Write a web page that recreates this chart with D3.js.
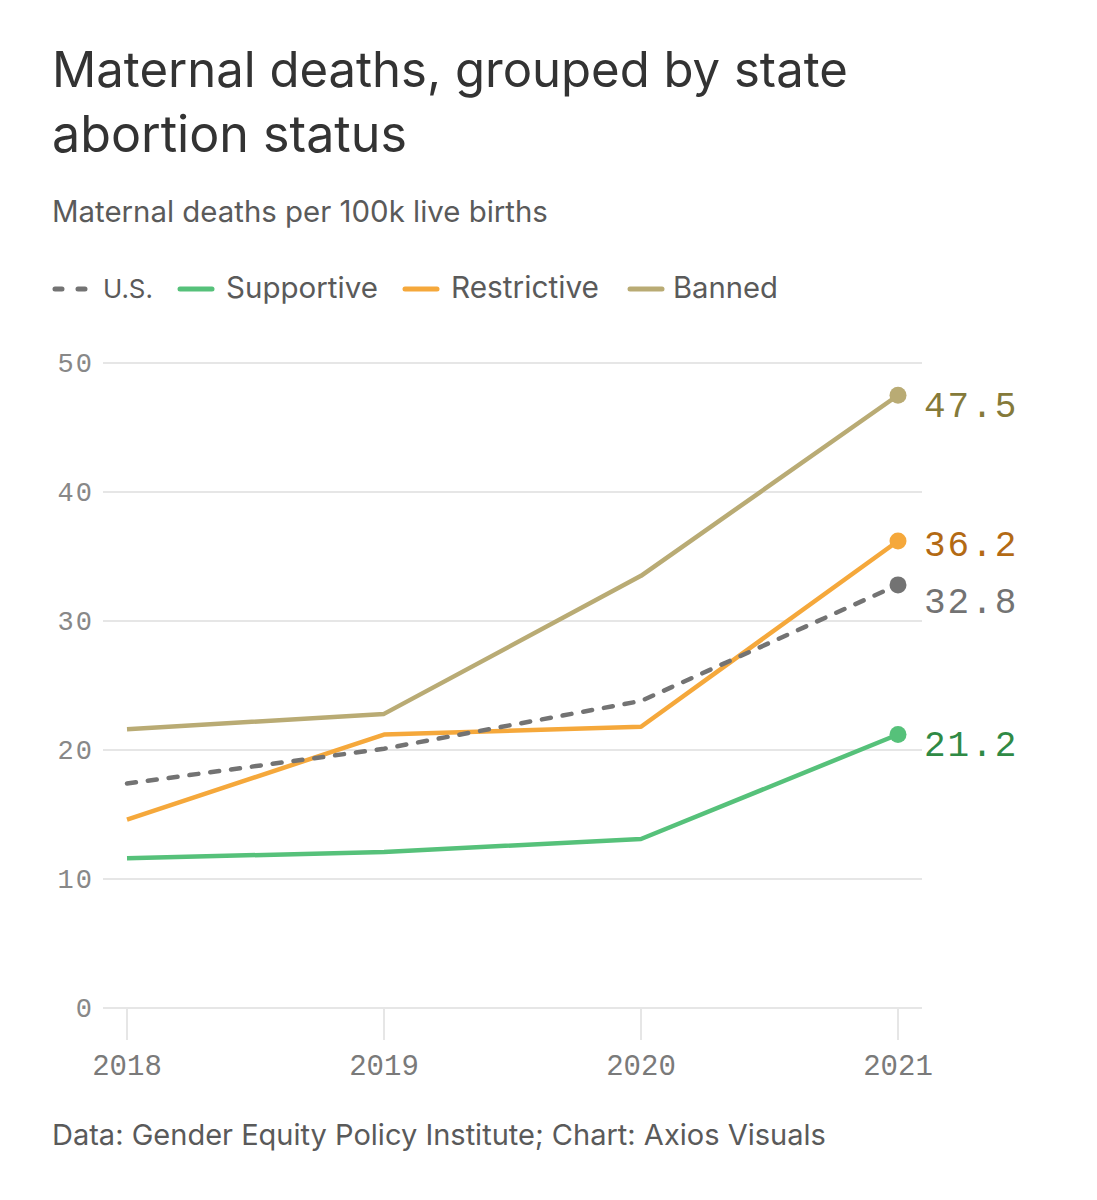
<!DOCTYPE html>
<html><head><meta charset="utf-8">
<script src="https://cdn.jsdelivr.net/npm/d3@7"></script>
<style>body{margin:0;background:#fff;}svg{display:block;}</style>
</head><body>
<svg id="chart" width="1097" height="1200"></svg>
<script>
const years = ["2018","2019","2020","2021"];
const usValues = [17.4, 20.1, 23.8, 32.8];
const supportiveValues = [11.6, 12.1, 13.1, 21.2];
const restrictiveValues = [14.6, 21.2, 21.8, 36.2];
const bannedValues = [21.6, 22.8, 33.5, 47.5];
const yTicks = [0, 10, 20, 30, 40, 50];
const seriesNames = ["U.S.", "Supportive", "Restrictive", "Banned"];

const series = [
  {name: seriesNames[0], values: usValues, color: "#737373", label: "#737373", dashed: true, labelDy: 28},
  {name: seriesNames[1], values: supportiveValues, color: "#56c17a", label: "#2f8a45", labelDy: 21},
  {name: seriesNames[2], values: restrictiveValues, color: "#f5a83b", label: "#b36a14", labelDy: 15},
  {name: seriesNames[3], values: bannedValues, color: "#b9ab74", label: "#857a3a", labelDy: 22}
];

const svg = d3.select("#chart");
const sans = "Inter, 'Noto Sans', 'DejaVu Sans', sans-serif";
const mono = "'Liberation Mono', 'DejaVu Sans Mono', monospace";

function fitText(sel, width) {
  const w = sel.node().getComputedTextLength();
  const fs = parseFloat(sel.attr("font-size"));
  sel.attr("font-size", fs * width / w);
}

// Title
fitText(svg.append("text").attr("x", 52).attr("y", 87).attr("font-family", sans).attr("font-size", 44)
  .attr("fill", "#333").text("Maternal deaths, grouped by state"), 796);
fitText(svg.append("text").attr("x", 52).attr("y", 152).attr("font-family", sans).attr("font-size", 44)
  .attr("fill", "#333").text("abortion status"), 355);
fitText(svg.append("text").attr("x", 52).attr("y", 222).attr("font-family", sans).attr("font-size", 25)
  .attr("fill", "#5a5a5a").text("Maternal deaths per 100k live births"), 496);

// Legend
const legendPos = [
  {x0: 52, x1: 92, tx: 103, tw: 50},
  {x0: 177, x1: 215, tx: 226, tw: 152},
  {x0: 402, x1: 440, tx: 451, tw: 148},
  {x0: 627, x1: 665, tx: 673, tw: 105}
];
series.forEach((s, i) => {
  const p = legendPos[i];
  const ly = 289;
  const l = svg.append("line").attr("x1", p.x0 + 3).attr("x2", p.x1 - 3).attr("y1", ly).attr("y2", ly)
    .attr("stroke", s.color).attr("stroke-width", 5).attr("stroke-linecap", "round");
  if (s.dashed) l.attr("stroke-dasharray", "7,16");
  fitText(svg.append("text").attr("x", p.tx).attr("y", 298).attr("font-family", sans).attr("font-size", 26)
    .attr("fill", "#5a5a5a").text(s.name), p.tw);
});

// Scales
const x = d3.scalePoint().domain(years).range([127, 898]);
const y = d3.scaleLinear().domain([0, 50]).range([1008, 363]);

// Grid
svg.append("g").selectAll("line").data(yTicks).join("line")
  .attr("x1", 103).attr("x2", 922).attr("y1", d => y(d)).attr("y2", d => y(d))
  .attr("stroke", "#e6e6e6").attr("stroke-width", 2);
svg.append("g").selectAll("text").data(yTicks).join("text")
  .attr("x", 94).attr("y", d => y(d) + 9).attr("text-anchor", "end")
  .attr("font-family", mono).attr("font-size", 27).attr("letter-spacing", 2).attr("fill", "#888")
  .text(d => d);

// X axis ticks
svg.append("g").selectAll("line").data(years).join("line")
  .attr("x1", d => x(d)).attr("x2", d => x(d)).attr("y1", y(0)).attr("y2", 1040)
  .attr("stroke", "#e6e6e6").attr("stroke-width", 2);
svg.append("g").selectAll("text").data(years).join("text")
  .attr("x", d => x(d)).attr("y", 1075).attr("text-anchor", "middle")
  .attr("font-family", mono).attr("font-size", 29).attr("fill", "#7a7a7a")
  .text(d => d);

// Lines
const line = d3.line().x((d, i) => x(years[i])).y(d => y(d));
const order = [3, 2, 1, 0];
order.forEach(i => {
  const s = series[i];
  const p = svg.append("path").attr("d", line(s.values)).attr("fill", "none")
    .attr("stroke", s.color).attr("stroke-width", 4.5).attr("stroke-linejoin", "round");
  if (s.dashed) p.attr("stroke-dasharray", "9,12").attr("stroke-linecap", "round");
});
series.forEach(s => {
  const v = s.values[s.values.length - 1];
  svg.append("circle").attr("cx", x(years[3])).attr("cy", y(v)).attr("r", 8.5).attr("fill", s.color);
  svg.append("text").attr("x", 924).attr("y", y(v) + s.labelDy)
    .attr("font-family", mono).attr("font-size", 36).attr("letter-spacing", 2).attr("fill", s.label)
    .text(v.toFixed(1));
});

// Footer
fitText(svg.append("text").attr("x", 52).attr("y", 1145).attr("font-family", sans).attr("font-size", 25)
  .attr("fill", "#5a5a5a").text("Data: Gender Equity Policy Institute; Chart: Axios Visuals"), 774);
</script>
</body></html>
